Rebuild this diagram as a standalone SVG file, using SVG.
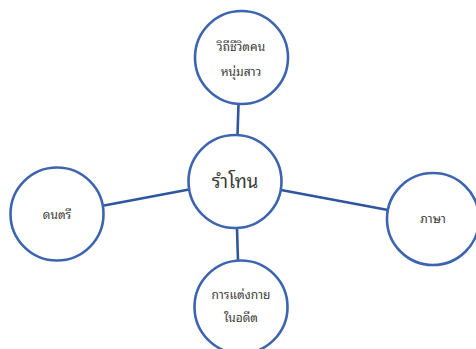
<svg xmlns="http://www.w3.org/2000/svg" width="476" height="349" viewBox="0 0 476 349">
  <style>
    .node circle { fill: #ffffff; stroke: #3d64ae; stroke-width: 2.6; }
    .conn line { stroke: #2f559f; stroke-width: 2.6; }
    text { font-family: "Noto Sans Thai Looped", "Noto Serif Thai", "Loma", "Garuda", "Norasi", "Noto Sans Thai", "DejaVu Sans", sans-serif; fill: #3a3a3a; text-anchor: middle; dominant-baseline: central; }
    .small { font-size: 12px; }
    .big { font-size: 18.5px; }
  </style>
  <rect width="476" height="349" fill="#ffffff"/>
  <g id="connectors" class="conn">
    <line x1="238.5" y1="104" x2="237.5" y2="135"/>
    <line x1="104" y1="205.5" x2="189" y2="189.5"/>
    <line x1="281" y1="190" x2="388" y2="210"/>
    <line x1="237" y1="228" x2="238" y2="261"/>
  </g>
  <g id="node-center" class="node">
    <circle cx="235" cy="181.5" r="46.5"/>
    <text class="big" x="235" y="179">รำโทน</text>
  </g>
  <g id="node-top" class="node">
    <circle cx="241.5" cy="57.5" r="46.5"/>
    <text class="small" x="241" y="45">วิถีชีวิตคน</text>
    <text class="small" x="241" y="70">หนุ่มสาว</text>
  </g>
  <g id="node-left" class="node">
    <circle cx="57" cy="214" r="46.5"/>
    <text class="small" x="57" y="213">ดนตรี</text>
  </g>
  <g id="node-right" class="node">
    <circle cx="433" cy="219" r="46"/>
    <text class="small" x="433" y="217">ภาษา</text>
  </g>
  <g id="node-bottom" class="node">
    <circle cx="241" cy="307" r="46.5"/>
    <text class="small" x="241" y="293">การแต่งกาย</text>
    <text class="small" x="241" y="316">ในอดีต</text>
  </g>
</svg>
